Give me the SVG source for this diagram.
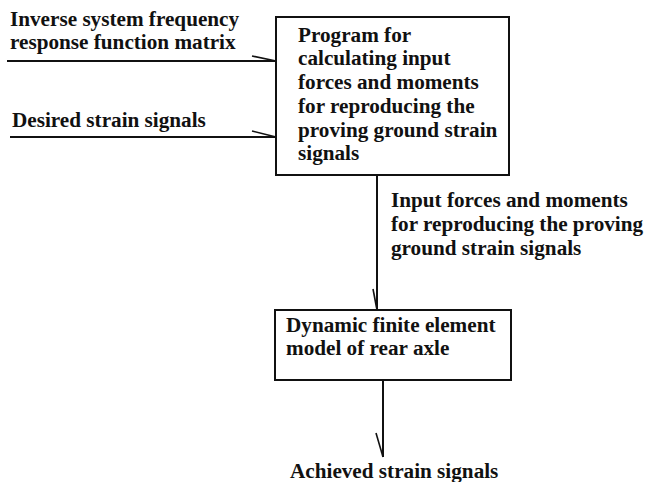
<svg xmlns="http://www.w3.org/2000/svg" width="646" height="482" viewBox="0 0 646 482">
<style>
text{font-family:"Liberation Serif","Times New Roman",serif;font-weight:bold;font-size:21.2px;fill:#111}
.box{fill:#fff;stroke:#111;stroke-width:2}
.ln{stroke:#111;stroke-width:2;fill:none}
.tk{stroke:#111;stroke-width:1.6;fill:none}
</style>
<rect width="646" height="482" fill="#fff"/>
<g id="connectors">
<line class="ln" x1="7" y1="61" x2="276" y2="61"/>
<line class="tk" x1="252" y1="56" x2="276" y2="61"/>
<line class="ln" x1="10" y1="137" x2="276" y2="137"/>
<line class="tk" x1="252" y1="131" x2="276" y2="137"/>
<line class="ln" x1="377" y1="175" x2="377" y2="310"/>
<line class="tk" x1="373" y1="289" x2="377" y2="310"/>
<line class="ln" x1="383" y1="380" x2="383" y2="457"/>
<line class="tk" x1="376" y1="433" x2="383" y2="457"/>
</g>
<g id="label-inverse">
<text x="10" y="26">Inverse system frequency</text>
<text x="10" y="49">response function matrix</text>
</g>
<g id="label-desired">
<text x="12" y="127">Desired strain signals</text>
</g>
<g id="node-program">
<rect class="box" x="276" y="17" width="233" height="158"/>
<text x="298" y="42">Program for</text>
<text x="298" y="65">calculating input</text>
<text x="298" y="89">forces and moments</text>
<text x="298" y="113">for reproducing the</text>
<text x="298" y="137">proving ground strain</text>
<text x="298" y="160">signals</text>
</g>
<g id="label-input">
<text x="391" y="207">Input forces and moments</text>
<text x="391" y="231">for reproducing the proving</text>
<text x="391" y="255">ground strain signals</text>
</g>
<g id="node-fem">
<rect class="box" x="275" y="310" width="236" height="70"/>
<text x="286" y="332">Dynamic finite element</text>
<text x="286" y="355">model of rear axle</text>
</g>
<g id="label-achieved">
<text x="290" y="478">Achieved strain signals</text>
</g>
</svg>
